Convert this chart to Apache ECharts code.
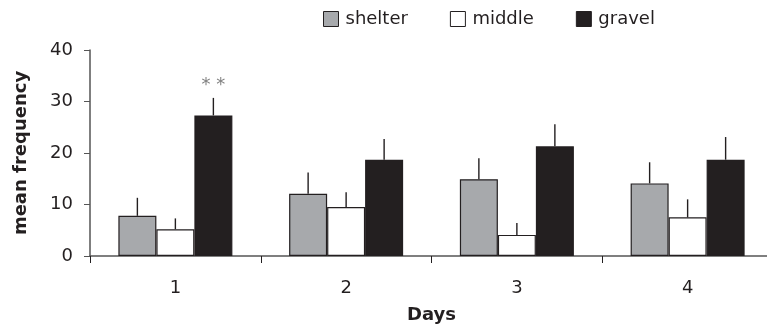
<!DOCTYPE html>
<html>
<head>
<meta charset="utf-8">
<script src="https://cdn.jsdelivr.net/npm/echarts@6/dist/echarts.min.js"></script>
<style>html,body{margin:0;padding:0;background:#fff}#c{width:767px;height:329px}</style>
</head>
<body>
<div id="c"></div>
<script>
const days = ['1', '2', '3', '4'];
const seriesNames = ['shelter', 'middle', 'gravel'];
const shelter = [7.8, 12.1, 14.9, 14.1];
const middle = [5.2, 9.5, 4.1, 7.5];
const gravel = [27.3, 18.7, 21.3, 18.7];
const shelterErr = [3.5, 4.1, 4.1, 4.1];
const middleErr = [2.1, 2.9, 2.3, 3.5];
const gravelErr = [3.4, 4.0, 4.3, 4.4];
const gravelMarks = ['**', '', '', ''];
const yTicks = [0, 10, 20, 30, 40];

const colors = ['#a7a9ac', '#ffffff', '#231f20'];
const values = [shelter, middle, gravel];
const errs = [shelterErr, middleErr, gravelErr];
const BAR_W = 38;
const FONT = '"DejaVu Sans", "Liberation Sans", Arial, sans-serif';

const chart = echarts.init(document.getElementById('c'), null, {renderer: 'canvas'});

const barSeries = seriesNames.map((n, i) => ({
  name: n,
  type: 'bar',
  data: values[i],
  barWidth: BAR_W,
  barGap: '0%',
  itemStyle: {color: colors[i], borderColor: '#231f20', borderWidth: 1.2},
  z: 2
}));

const errSeries = seriesNames.map((n, i) => ({
  name: n + ' err',
  type: 'custom',
  data: values[i].map((v, k) => [k, v, errs[i][k]]),
  z: 3,
  renderItem: function (params, api) {
    const k = api.value(0);
    const v = api.value(1);
    const e = api.value(2);
    const mark = i === 2 ? gravelMarks[k] : '';
    const base = api.coord([k, v]);
    const top = api.coord([k, v + e]);
    const x = base[0] + (i - 1) * BAR_W;
    const children = [{
      type: 'line',
      shape: {x1: x, y1: base[1], x2: x, y2: top[1]},
      style: {stroke: '#231f20', lineWidth: 1.4}
    }];
    if (mark) {
      children.push({
        type: 'text',
        style: {text: mark.split('').join(' '), x: x, y: top[1] - 13, textAlign: 'center', textVerticalAlign: 'middle',
                fill: '#808080', font: '18px ' + FONT}
      });
    }
    return {type: 'group', children: children};
  }
}));

chart.setOption({
  animation: false,
  backgroundColor: '#fff',
  legend: {
    data: seriesNames,
    top: 5,
    left: 318,
    itemWidth: 15,
    itemHeight: 15,
    itemGap: 42,
    icon: 'rect',
    textStyle: {fontSize: 18, color: '#231f20', fontFamily: FONT, padding: [0, 0, 0, 2]},
    itemStyle: {borderColor: '#231f20', borderWidth: 1}
  },
  grid: {left: 90, top: 50, width: 683, height: 206, containLabel: false, outerBoundsMode: 'none'},
  xAxis: {
    type: 'category',
    data: days,
    name: 'Days',
    nameLocation: 'middle',
    nameGap: 50,
    nameTextStyle: {fontSize: 18, fontWeight: 'bold', color: '#231f20', fontFamily: FONT},
    axisLine: {lineStyle: {color: '#555', width: 1.5}},
    axisTick: {show: true, length: 7, lineStyle: {color: '#231f20'}},
    axisLabel: {fontSize: 18, color: '#231f20', margin: 23, fontFamily: FONT}
  },
  yAxis: {
    type: 'value',
    min: yTicks[0],
    max: yTicks[yTicks.length - 1],
    interval: 10,
    name: 'mean frequency',
    nameLocation: 'middle',
    nameGap: 60,
    nameTextStyle: {fontSize: 18, fontWeight: 'bold', color: '#231f20', fontFamily: FONT},
    axisLine: {show: true, lineStyle: {color: '#555', width: 1.5}},
    axisTick: {show: true, length: 6, lineStyle: {color: '#555'}},
    splitLine: {show: false},
    axisLabel: {fontSize: 18, color: '#231f20', margin: 17, fontFamily: FONT}
  },
  series: barSeries.concat(errSeries)
});
</script>
</body>
</html>
